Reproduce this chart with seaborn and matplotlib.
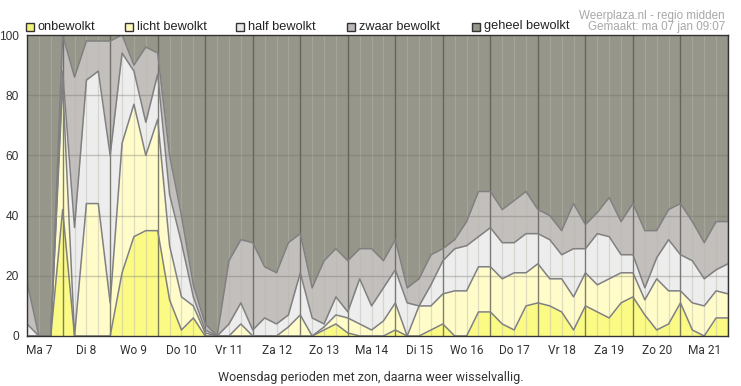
import numpy as np
import matplotlib
matplotlib.use("Agg")
import matplotlib.pyplot as plt
import seaborn as sns
import pandas as pd
from matplotlib.patches import Rectangle

# ---- data (percent per 6-hour step, Ma 7 06:00 .. Di 22 00:00) ----
day_labels = ["Ma 7", "Di 8", "Wo 9", "Do 10", "Vr 11", "Za 12", "Zo 13", "Ma 14",
              "Di 15", "Wo 16", "Do 17", "Vr 18", "Za 19", "Zo 20", "Ma 21"]
categories = ["onbewolkt", "licht bewolkt", "half bewolkt", "zwaar bewolkt", "geheel bewolkt"]

onbewolkt = [0, 0, 0, 42, 0, 0, 0, 0, 21, 33, 35, 35, 12, 2, 6, 0, 0, 0, 0, 0,
             0, 0, 0, 0, 0, 2, 4, 1, 0, 0, 0, 2, 0, 0, 2, 4, 0, 0, 8, 8,
             4, 2, 10, 11, 10, 8, 2, 10, 8, 6, 11, 13, 7, 2, 4, 11, 2, 0, 6, 6]
licht = [0, 0, 0, 42, 0, 44, 44, 11, 43, 44, 25, 37, 18, 11, 4, 1, 0, 0, 4, 0,
         0, 0, 3, 7, 0, 1, 3, 5, 4, 2, 5, 9, 0, 10, 8, 10, 15, 15, 15, 15,
         15, 19, 11, 13, 9, 11, 11, 11, 9, 13, 10, 8, 5, 17, 11, 4, 9, 10, 9, 8]
half = [4, 0, 0, 4, 36, 41, 44, 49, 30, 11, 11, 15, 17, 18, 3, 1, 0, 4, 7, 2,
        6, 4, 4, 14, 6, 1, 6, 2, 15, 8, 11, 11, 11, 0, 7, 11, 14, 15, 10, 13,
        12, 10, 13, 10, 13, 8, 16, 8, 17, 14, 6, 6, 4, 7, 17, 12, 14, 9, 7, 10]
zwaar = [14, 0, 0, 12, 50, 13, 10, 38, 6, 2, 25, 7, 13, 9, 4, 2, 0, 21, 21, 29,
         17, 17, 24, 13, 10, 21, 16, 17, 10, 19, 9, 10, 5, 9, 10, 4, 3, 8, 15, 12,
         11, 14, 14, 8, 8, 8, 15, 8, 7, 13, 11, 17, 19, 9, 10, 17, 13, 12, 16, 14]
geheel = [82, 100, 100, 0, 14, 2, 2, 2, 0, 10, 4, 6, 40, 60, 83, 96, 100, 75, 68, 69,
          77, 79, 69, 66, 84, 75, 71, 75, 71, 71, 75, 68, 84, 81, 73, 71, 68, 62, 52, 52,
          58, 55, 52, 58, 60, 65, 56, 63, 59, 54, 62, 56, 65, 65, 58, 56, 62, 69, 62, 62]

fill_colors = ["#fafa84", "#fffcc9", "#ededed", "#c3bfbd", "#96968a"]
legend_colors = ["#f3f37a", "#fdf9c0", "#e8e8e8", "#bcb8b6", "#96968a"]

sns.set_style("white")
plt.rcParams['font.family'] = ['Liberation Sans', 'DejaVu Sans']

W, H = 741, 386
fig = plt.figure(figsize=(W / 100, H / 100), dpi=100)
ax = fig.add_axes([27 / W, 50 / H, 701 / W, 301 / H])

series = [onbewolkt, licht, half, zwaar, geheel]
n = len(onbewolkt)
x = np.arange(n)
ax.stackplot(x, series, colors=fill_colors, linewidth=0, zorder=1)

# grid
for i in range(n):
    if (i - 3) % 4 == 0:
        ax.axvline(i, color="#55554d", lw=1.0, alpha=0.75, zorder=2)
    else:
        ax.axvline(i, color="#b8b8ac", lw=0.9, alpha=0.45, zorder=2)
for yv in [20, 40, 60, 80]:
    ax.axhline(yv, color="#6e6e64", lw=1.0, alpha=0.35, zorder=2)

# boundary lines via seaborn
cum = np.cumsum(np.array(series[:4]), axis=0)
rows = []
for k in range(4):
    for i in range(n):
        rows.append({"t": i, "v": cum[k, i], "layer": categories[k]})
df = pd.DataFrame(rows)
sns.lineplot(data=df, x="t", y="v", hue="layer", palette=["#808080"] * 4,
             legend=False, lw=1.1, ax=ax, zorder=3, estimator=None)

ax.set_xlim(0, n - 1)
ax.set_ylim(0, 100)
ax.set_xlabel("")
ax.set_ylabel("")

# ticks
day_bounds = list(range(3, n, 4))
ax.set_xticks(day_bounds)
ax.set_xticklabels([])
ax.set_xticks([1 + 4 * k for k in range(len(day_labels))], minor=True)
ax.set_xticklabels(day_labels, minor=True, fontfamily="Roboto", fontsize=8.6, color="#333333")
ax.tick_params(axis="x", which="major", length=5, width=1, color="#333333", direction="out")
ax.tick_params(axis="x", which="minor", length=0, pad=6)
ax.set_yticks([0, 20, 40, 60, 80, 100])
ax.set_yticklabels(["0", "20", "40", "60", "80", "100"], fontsize=8.6, color="#333333")
ax.tick_params(axis="y", length=5, width=1, color="#333333", direction="out", pad=1)
ax.grid(False)
for s in ax.spines.values():
    s.set_color("#333333")
    s.set_linewidth(1.0)
    s.set_zorder(5)

# legend (manual, pixel positions)
sq_x = [26, 125, 236, 347, 472]
for cx, lab, col in zip(sq_x, categories, legend_colors):
    fig.patches.append(Rectangle((cx / W, 1 - 30.5 / H), 8 / W, 8 / H, transform=fig.transFigure,
                                 facecolor=col, edgecolor="#333333", lw=1.0))
    fig.text((cx + 12) / W, 1 - 26.5 / H, lab, fontsize=9.2, color="#222222",
             va="center", ha="left")

fig.text(725 / W, 1 - 16 / H, "Weerplaza.nl - regio midden", fontsize=8.4,
         color="#a8a8a8", ha="right", va="center")
fig.text(725 / W, 1 - 27 / H, "Gemaakt: ma 07 jan 09:07", fontsize=8.4,
         color="#a8a8a8", ha="right", va="center")

fig.text(371 / W, 1 - 377 / H, "Woensdag perioden met zon, daarna weer wisselvallig.",
         fontfamily="Roboto", fontsize=9.0, color="#333333", ha="center", va="center")

fig.savefig("out.png", dpi=100)
